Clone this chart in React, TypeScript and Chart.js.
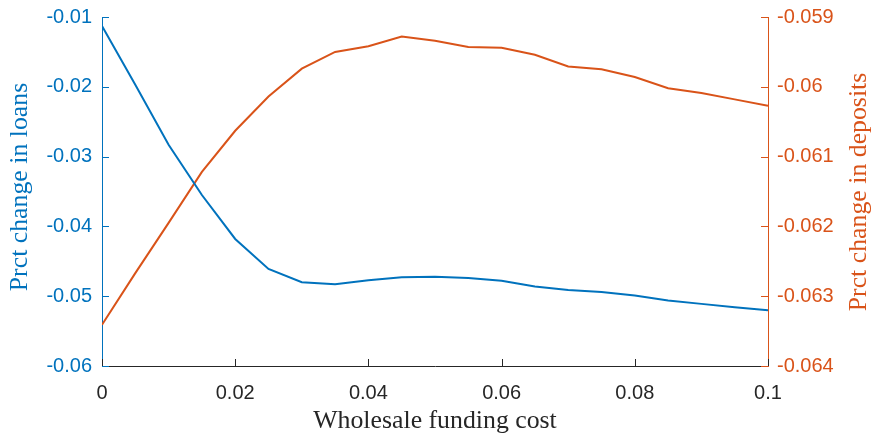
import React, { useEffect, useRef } from "react";
import { Chart, registerables } from "chart.js";

Chart.register(...registerables);

const fundingCost = [0, 0.005, 0.01, 0.015, 0.02, 0.025, 0.03, 0.035, 0.04, 0.045, 0.05, 0.055, 0.06, 0.065, 0.07, 0.075, 0.08, 0.085, 0.09, 0.095, 0.1];
const loansChange = [-0.0113, -0.0197, -0.0283, -0.0355, -0.0418, -0.0461, -0.0480, -0.0483, -0.0477, -0.0473, -0.0472, -0.0474, -0.0478, -0.0486, -0.0491, -0.0494, -0.0499, -0.0506, -0.0511, -0.0516, -0.0520];
const depositsChange = [-0.06341, -0.06267, -0.06195, -0.06122, -0.06063, -0.06014, -0.05974, -0.0595, -0.05942, -0.05928, -0.05934, -0.05943, -0.05944, -0.05954, -0.05971, -0.05975, -0.05986, -0.06002, -0.06009, -0.06018, -0.06027];

const xTicks = [0, 0.02, 0.04, 0.06, 0.08, 0.1];
const leftTicks = [-0.06, -0.05, -0.04, -0.03, -0.02, -0.01];
const rightTicks = [-0.064, -0.063, -0.062, -0.061, -0.06, -0.059];

const xTitle = "Wholesale funding cost";
const leftTitle = "Prct change in loans";
const rightTitle = "Prct change in deposits";

const BLUE = "#0072BD";
const ORANGE = "#D95319";
const DARK = "#262626";
const TICK_FONT = { family: "'Liberation Sans', Arial, sans-serif", size: 20 };
const TITLE_FONT = "25.8px 'Liberation Serif', 'Times New Roman', serif";

const decorPlugin = {
  id: "decor",
  afterDraw(chart: any) {
    const { ctx, chartArea } = chart;
    const xs = chart.scales.x;
    const yl = chart.scales.yLeft;
    const yr = chart.scales.yRight;
    const len = 7;
    ctx.save();
    ctx.lineWidth = 1;
    ctx.strokeStyle = DARK;
    xTicks.forEach((v) => {
      const px = Math.round(xs.getPixelForValue(v)) + 0.5;
      ctx.beginPath();
      ctx.moveTo(px, chartArea.bottom);
      ctx.lineTo(px, chartArea.bottom - len);
      ctx.stroke();
    });
    ctx.strokeStyle = BLUE;
    leftTicks.forEach((v) => {
      const py = Math.round(yl.getPixelForValue(v)) + 0.5;
      ctx.beginPath();
      ctx.moveTo(chartArea.left, py);
      ctx.lineTo(chartArea.left + len, py);
      ctx.stroke();
    });
    ctx.strokeStyle = ORANGE;
    rightTicks.forEach((v) => {
      const py = Math.round(yr.getPixelForValue(v)) + 0.5;
      ctx.beginPath();
      ctx.moveTo(chartArea.right, py);
      ctx.lineTo(chartArea.right - len, py);
      ctx.stroke();
    });
    ctx.font = TITLE_FONT;
    ctx.textAlign = "center";
    ctx.textBaseline = "middle";
    ctx.fillStyle = DARK;
    ctx.fillText(xTitle, (chartArea.left + chartArea.right) / 2, 421);
    ctx.save();
    ctx.translate(20, 187);
    ctx.rotate(-Math.PI / 2);
    ctx.fillStyle = BLUE;
    ctx.fillText(leftTitle, 0, 0);
    ctx.restore();
    ctx.save();
    ctx.translate(859, 192);
    ctx.rotate(-Math.PI / 2);
    ctx.fillStyle = ORANGE;
    ctx.fillText(rightTitle, 0, 0);
    ctx.restore();
    ctx.restore();
  },
};

export default function App() {
  const ref = useRef<HTMLCanvasElement | null>(null);
  useEffect(() => {
    if (!ref.current) return;
    const chart = new Chart(ref.current, {
      type: "line",
      data: {
        datasets: [
          {
            label: "loans",
            data: fundingCost.map((x, i) => ({ x, y: loansChange[i] })),
            borderColor: BLUE,
            borderWidth: 2,
            pointRadius: 0,
            fill: false,
            tension: 0,
            yAxisID: "yLeft",
          },
          {
            label: "deposits",
            data: fundingCost.map((x, i) => ({ x, y: depositsChange[i] })),
            borderColor: ORANGE,
            borderWidth: 2,
            pointRadius: 0,
            fill: false,
            tension: 0,
            yAxisID: "yRight",
          },
        ],
      },
      options: {
        responsive: false,
        animation: false,
        layout: { padding: { top: 17, left: 0, right: 0, bottom: 0 } },
        plugins: { legend: { display: false }, tooltip: { enabled: false } },
        scales: {
          x: {
            type: "linear",
            min: 0,
            max: 0.1,
            afterBuildTicks: (s: any) => { s.ticks = xTicks.map((v) => ({ value: v })); },
            afterFit: (s: any) => { s.height = 68; s.paddingLeft = 0; s.paddingRight = 0; },
            grid: { display: false, drawTicks: false, tickLength: 0 },
            border: { display: true, color: DARK, width: 1 },
            ticks: {
              color: DARK,
              font: TICK_FONT,
              padding: 15,
              maxRotation: 0,
              callback: (v: any) => String(Number(Number(v).toFixed(3))),
            },
          },
          yLeft: {
            type: "linear",
            position: "left",
            min: -0.06,
            max: -0.01,
            afterBuildTicks: (s: any) => { s.ticks = leftTicks.map((v) => ({ value: v })); },
            afterFit: (s: any) => { s.width = 102; s.paddingTop = 0; s.paddingBottom = 0; },
            grid: { display: false, drawTicks: false, tickLength: 0 },
            border: { display: true, color: BLUE, width: 1 },
            ticks: {
              color: BLUE,
              font: TICK_FONT,
              padding: 10,
              callback: (v: any) => String(Number(Number(v).toFixed(3))),
            },
          },
          yRight: {
            type: "linear",
            position: "right",
            min: -0.064,
            max: -0.059,
            afterBuildTicks: (s: any) => { s.ticks = rightTicks.map((v) => ({ value: v })); },
            afterFit: (s: any) => { s.width = 105; s.paddingTop = 0; s.paddingBottom = 0; },
            grid: { display: false, drawTicks: false, tickLength: 0 },
            border: { display: true, color: ORANGE, width: 1 },
            ticks: {
              color: ORANGE,
              font: TICK_FONT,
              padding: 9,
              callback: (v: any) => String(Number(Number(v).toFixed(4))),
            },
          },
        },
      },
      plugins: [decorPlugin],
    });
    return () => chart.destroy();
  }, []);
  return (
    <div style={{ position: "absolute", left: 0, top: 0, width: 873, height: 434, background: "#fff" }}>
      <canvas ref={ref} width={873} height={434} style={{ display: "block" }} />
    </div>
  );
}
